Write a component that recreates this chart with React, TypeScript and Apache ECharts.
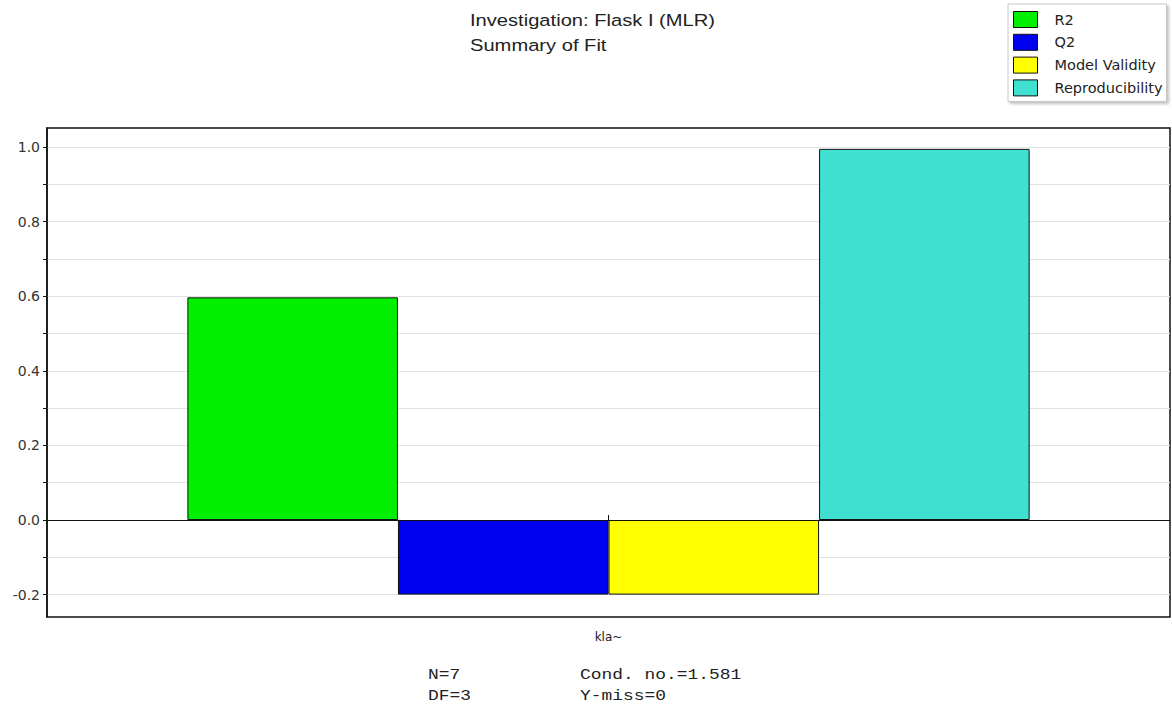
import React, { useEffect, useRef } from "react";
import * as echarts from "echarts";

const categories = ["kla~"];
const seriesNames = ["R2", "Q2", "Model Validity", "Reproducibility"];
const seriesValues = [0.597, -0.2, -0.2, 0.995];
const seriesColors = ["#00f000", "#0000f0", "#ffff00", "#40e0d0"];
const tickValues = [-0.2, -0.1, 0.0, 0.1, 0.2, 0.3, 0.4, 0.5, 0.6, 0.7, 0.8, 0.9, 1.0];
const labelValues = [-0.2, 0.0, 0.2, 0.4, 0.6, 0.8, 1.0];
const titleLines = ["Investigation: Flask I (MLR)", "Summary of Fit"];
const statsLeft = ["N=7", "DF=3"];
const statsRight = ["Cond. no.=1.581", "Y-miss=0"];

export default function App() {
  const ref = useRef<HTMLDivElement>(null);
  useEffect(() => {
    if (!ref.current) return;
    const chart = echarts.init(ref.current, null, { renderer: "svg" });
    const series: any[] = seriesNames.map((name, i) => ({
      name,
      type: "bar",
      xAxisIndex: 0,
      barGap: "0%",
      barCategoryGap: "25%",
      itemStyle: { color: seriesColors[i], borderColor: "#111", borderWidth: 1 },
      data: [seriesValues[i]],
    }));
    series[0].markLine = {
      silent: true,
      symbol: "none",
      label: { show: false },
      lineStyle: { color: "#e2e2e2", type: "solid", width: 1 },
      data: tickValues.filter((v) => v !== 0).map((v) => ({ yAxis: v })),
      z: 0,
    };
    const mono = "14px 'Liberation Mono', 'Courier New', monospace";
    chart.setOption({
      animation: false,
      backgroundColor: "#fff",
      graphic: [
        ...titleLines.map((t, i) => ({
          type: "text",
          x: 470,
          y: 12 + i * 25,
          scaleX: 1.185,
          style: { text: t, font: "17px Arial, 'Liberation Sans'", fill: "#222" },
        })),
        ...statsLeft.map((t, i) => ({
          type: "text",
          x: 428,
          y: 669 + i * 21,
          scaleX: 1.28,
          style: { text: t, font: mono, fill: "#222" },
        })),
        ...statsRight.map((t, i) => ({
          type: "text",
          x: 580,
          y: 669 + i * 21,
          scaleX: 1.28,
          style: { text: t, font: mono, fill: "#222" },
        })),
      ],
      legend: {
        orient: "vertical",
        left: 1008,
        top: 4,
        itemWidth: 24,
        itemHeight: 16,
        itemGap: 5.8,
        padding: [7, 4, 5, 5],
        borderColor: "#c8c8c8",
        borderWidth: 1,
        backgroundColor: "#fff",
        shadowColor: "rgba(0,0,0,0.25)",
        shadowBlur: 3,
        shadowOffsetX: 2,
        shadowOffsetY: 2,
        textStyle: { fontFamily: "'DejaVu Sans'", fontSize: 14.5, lineHeight: 16, color: "#222", padding: [0, 0, 0, 12] },
        data: seriesNames.map((n) => ({ name: n, icon: "rect", itemStyle: { borderColor: "#111", borderWidth: 1 } })),
      },
      grid: { left: 47, right: 2, top: 128, bottom: 95, show: true, borderColor: "#111", borderWidth: 1.5, backgroundColor: "transparent" },
      xAxis: [
        {
          type: "category",
          data: categories,
          position: "bottom",
          axisLine: { show: false, onZero: false },
          axisTick: { show: false },
          axisLabel: { margin: 14, fontFamily: "'DejaVu Sans'", fontSize: 12, color: "#222" },
        },
        {
          type: "category",
          data: categories,
          position: "bottom",
          axisLine: { show: true, onZero: true, lineStyle: { color: "#111", width: 1 } },
          axisTick: { show: true, inside: true, length: 5, alignWithLabel: true, lineStyle: { color: "#111" } },
          axisLabel: { show: false },
          z: 5,
        },
      ],
      yAxis: {
        type: "value",
        min: -0.26,
        max: 1.051,
        splitLine: { show: false },
        axisLine: { show: true, lineStyle: { color: "#111", width: 1.5 } },
        axisTick: { show: true, length: 4, customValues: tickValues, lineStyle: { color: "#111" } },
        axisLabel: {
          customValues: labelValues,
          margin: 7,
          fontFamily: "'DejaVu Sans'",
          fontSize: 14,
          color: "#333",
          formatter: (v: number) => v.toFixed(1),
        },
      },
      series,
    });
    return () => chart.dispose();
  }, []);
  return <div ref={ref} style={{ position: "fixed", left: 0, top: 0, width: 1172, height: 712 }} />;
}
